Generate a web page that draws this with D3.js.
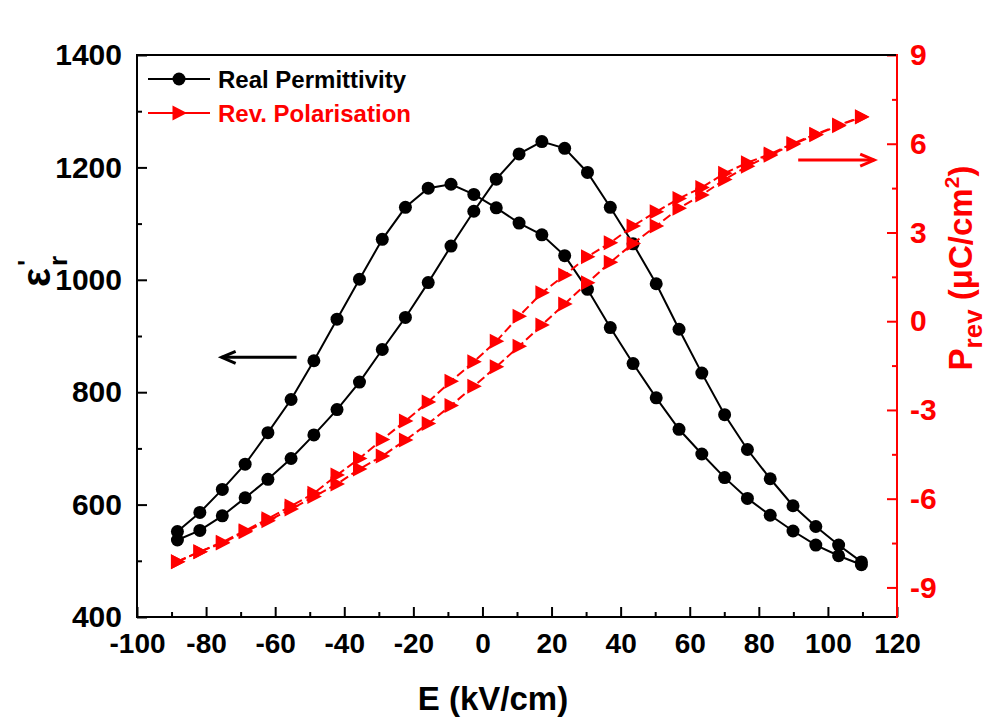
<!DOCTYPE html>
<html>
<head>
<meta charset="utf-8">
<script src="https://cdn.jsdelivr.net/npm/d3@7"></script>
<style>
body { margin: 0; background: #fff; }
svg text { font-family: "Liberation Sans", Arial, sans-serif; font-weight: bold; }
</style>
</head>
<body>
<div class="chart"></div>
<script>
// field values (kV/cm)
const fieldE = [-88.3, -81.8, -75.3, -68.7, -62.1, -55.4, -48.8, -42.1, -35.6, -29.0, -22.3,
  -15.7, -9.1, -2.5, 4.0, 10.6, 17.2, 23.8, 30.4, 37.0, 43.6, 50.3, 56.9, 63.5, 70.1,
  76.7, 83.3, 89.9, 96.5, 103.1, 109.7];

// real permittivity, two sweep branches
const permA = [552, 586, 627, 672, 728, 787, 856, 930, 1001, 1072, 1129,
  1163, 1170, 1152, 1128, 1101, 1080, 1043, 983, 915, 851, 790, 734, 690, 648,
  611, 581, 553, 528, 509, 493];
const permB = [537, 554, 580, 612, 645, 682, 724, 769, 818, 876, 933,
  995, 1060, 1122, 1179, 1224, 1246, 1234, 1191, 1129, 1064, 993, 912, 834, 760,
  698, 646, 598, 561, 528, 498];

// reversible polarisation (uC/cm2), two sweep branches
const polA = [-8.13, -7.79, -7.47, -7.08, -6.68, -6.25, -5.82, -5.20, -4.64, -4.00, -3.37,
  -2.73, -2.03, -1.37, -0.68, 0.17, 0.96, 1.56, 2.18, 2.65, 3.22, 3.70, 4.15, 4.52, 5.00,
  5.36, 5.65, 6.01, 6.32, 6.63, 6.91];
const polB = [-8.13, -7.79, -7.50, -7.12, -6.75, -6.35, -5.93, -5.50, -5.00, -4.56, -4.02,
  -3.46, -2.85, -2.20, -1.54, -0.85, -0.13, 0.58, 1.30, 1.99, 2.63, 3.22, 3.82, 4.27, 4.79,
  5.24, 5.61, 5.98, 6.30, 6.61, 6.90];

const xTicks = [-100, -80, -60, -40, -20, 0, 20, 40, 60, 80, 100, 120];
const yTicks = [400, 600, 800, 1000, 1200, 1400];
const pTicks = [-9, -6, -3, 0, 3, 6, 9];

const RED = '#ff0000';

const W = 992, H = 717;
const margin = {top: 55, right: 95, bottom: 100, left: 137};
const width = W - margin.left - margin.right,
      height = H - margin.top - margin.bottom;

const x = d3.scaleLinear().domain([-100, 120]).range([0, width]);
const y = d3.scaleLinear().domain([400, 1400]).range([height, 0]);
const yP = d3.scaleLinear().domain([-10, 9]).range([height, 0]);

const svg = d3.select('.chart').append('svg')
    .attr('width', W).attr('height', H);
const g = svg.append('g')
    .attr('transform', 'translate(' + margin.left + ',' + margin.top + ')');

// ---- axes ----
const xMinor = d3.range(-90, 120, 20);
const yMinor = d3.range(500, 1400, 200);
const pMinor = d3.range(-7.5, 9, 3);
const plain = d => String(d);   // keep ascii hyphen like the original

function styleAxis(sel, color, size) {
    sel.select('.domain').remove();
    sel.selectAll('line').attr('stroke', color).attr('stroke-width', 2);
    sel.selectAll('text').attr('fill', color).style('font-size', size + 'px');
}

g.append('g').attr('transform', 'translate(0,' + height + ')')
    .call(d3.axisBottom(x).tickValues(xMinor).tickSize(-5).tickFormat(''))
    .call(s => styleAxis(s, '#000', 28));
g.append('g').attr('transform', 'translate(0,' + height + ')')
    .call(d3.axisBottom(x).tickValues(xTicks).tickSize(-10).tickPadding(16).tickFormat(plain))
    .call(s => styleAxis(s, '#000', 28));

g.append('g')
    .call(d3.axisLeft(y).tickValues(yMinor).tickSize(-5).tickFormat(''))
    .call(s => styleAxis(s, '#000', 30));
g.append('g')
    .call(d3.axisLeft(y).tickValues(yTicks).tickSize(-10).tickPadding(15).tickFormat(plain))
    .call(s => styleAxis(s, '#000', 30));

g.append('g').attr('transform', 'translate(' + width + ',0)')
    .call(d3.axisRight(yP).tickValues(pMinor).tickSize(-5).tickFormat(''))
    .call(s => styleAxis(s, RED, 30));
g.append('g').attr('transform', 'translate(' + width + ',0)')
    .call(d3.axisRight(yP).tickValues(pTicks).tickSize(-10).tickPadding(13).tickFormat(plain))
    .call(s => styleAxis(s, RED, 30));

// frame
g.append('path').attr('d', 'M0,0H' + width).attr('stroke', '#000').attr('stroke-width', 2);
g.append('path').attr('d', 'M0,0V' + height + 'H' + width).attr('fill', 'none')
    .attr('stroke', '#000').attr('stroke-width', 2).attr('stroke-linecap', 'square');
g.append('path').attr('d', 'M' + width + ',0V' + height).attr('stroke', RED).attr('stroke-width', 2)
    .attr('stroke-linecap', 'square');

// ---- series ----
const permLine = d3.line().x((d, i) => x(fieldE[i])).y(d => y(d));
const polLine = d3.line().x((d, i) => x(fieldE[i])).y(d => yP(d));

[permA, permB].forEach(arr => {
    g.append('path').datum(arr).attr('d', permLine)
        .attr('fill', 'none').attr('stroke', '#000').attr('stroke-width', 2);
});
[permA, permB].forEach(arr => {
    g.append('g').selectAll('circle').data(arr).join('circle')
        .attr('cx', (d, i) => x(fieldE[i])).attr('cy', d => y(d))
        .attr('r', 6.5).attr('fill', '#000');
});

const tri = 'M-6.5,-7.5L8,0L-6.5,7.5Z';
[polA, polB].forEach(arr => {
    g.append('path').datum(arr).attr('d', polLine)
        .attr('fill', 'none').attr('stroke', RED).attr('stroke-width', 2)
        .attr('stroke-dasharray', '9,4');
});
[polA, polB].forEach(arr => {
    g.append('g').selectAll('path').data(arr).join('path')
        .attr('transform', (d, i) => 'translate(' + x(fieldE[i]) + ',' + yP(d) + ')')
        .attr('d', tri).attr('fill', RED);
});

// ---- axis arrows ----
function arrow(x1, x2, yy, color) {
    const dir = x2 < x1 ? 1 : -1;
    g.append('path').attr('d', 'M' + x1 + ',' + yy + 'H' + x2)
        .attr('stroke', color).attr('stroke-width', 3);
    g.append('path')
        .attr('d', 'M' + (x2 + dir * 14) + ',' + (yy - 6) + 'L' + x2 + ',' + yy + 'L' + (x2 + dir * 14) + ',' + (yy + 6))
        .attr('fill', 'none').attr('stroke', color).attr('stroke-width', 3);
}
arrow(x(-53.8), x(-75.5), y(862), '#000');
arrow(x(91.4), x(113.4), yP(5.45), RED);

// ---- legend ----
const leg = g.append('g').attr('transform', 'translate(11,24)');
leg.append('path').attr('d', 'M0,0H62').attr('stroke', '#000').attr('stroke-width', 2);
leg.append('circle').attr('cx', 31).attr('cy', 0).attr('r', 6.5).attr('fill', '#000');
leg.append('text').attr('x', 70).attr('y', 8.5).style('font-size', '24px').text('Real Permittivity');
leg.append('path').attr('d', 'M0,34H62').attr('stroke', RED).attr('stroke-width', 2);
leg.append('path').attr('transform', 'translate(31,34)').attr('d', tri).attr('fill', RED);
leg.append('text').attr('x', 70).attr('y', 42.5).attr('fill', RED).style('font-size', '24px')
    .text('Rev. Polarisation');

// ---- axis titles ----
svg.append('text').attr('x', 493).attr('y', 710).attr('text-anchor', 'middle')
    .style('font-size', '33px').text('E (kV/cm)');

const yl = svg.append('g').attr('transform', 'translate(50,268) rotate(-90)');
yl.append('text').attr('x', 0).attr('y', 0).attr('text-anchor', 'end').style('font-size', '40px').text('ε');
yl.append('text').attr('x', 2).attr('y', -14).style('font-size', '26px').text('\'');
yl.append('text').attr('x', 2).attr('y', 17).style('font-size', '26px').text('r');

const pl = svg.append('text').attr('transform', 'translate(972,268) rotate(-90)')
    .attr('text-anchor', 'middle').attr('fill', RED).style('font-size', '33px');
pl.append('tspan').text('P');
pl.append('tspan').attr('dy', 10).style('font-size', '26px').text('rev');
pl.append('tspan').attr('dy', -10).text(' (μC/cm');
pl.append('tspan').attr('dy', -13).style('font-size', '21px').text('2');
pl.append('tspan').attr('dy', 13).text(')');
</script>
</body>
</html>
